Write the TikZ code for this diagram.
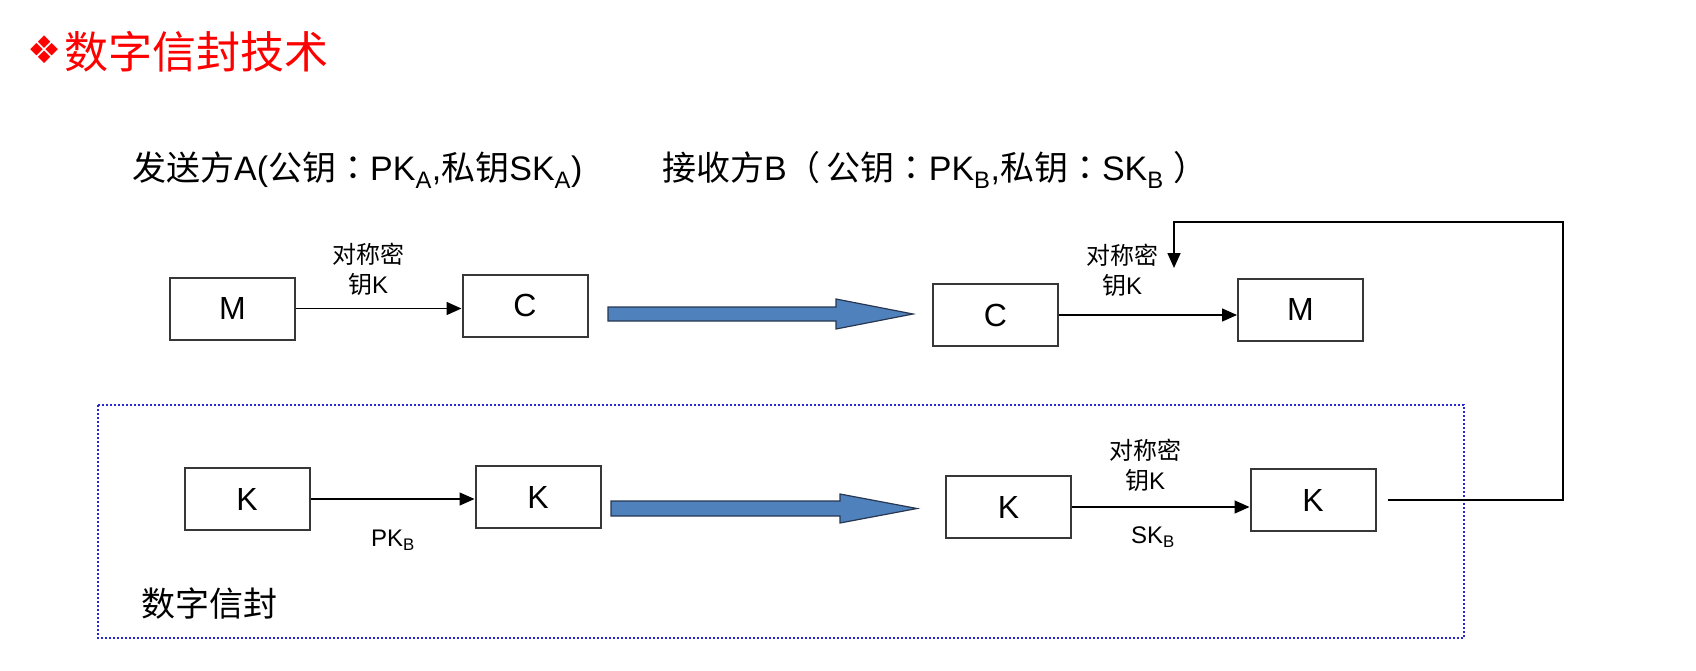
\documentclass[tikz,border=0pt]{standalone}
\usepackage{fontspec}
\setmainfont{Liberation Sans}
\newfontfamily\cjk{Noto Sans CJK SC}
\newfontfamily\cjkp{Noto Sans CJK JP}
\newfontfamily\dingfont{DejaVu Sans}
\usetikzlibrary{arrows.meta}
\definecolor{arrowblue}{RGB}{79,129,189}
\definecolor{arrowedge}{RGB}{40,55,80}
\definecolor{envblue}{RGB}{40,40,210}
\definecolor{boxline}{RGB}{55,55,55}
\begin{document}
\begin{tikzpicture}[x=1pt,y=-1pt,
  box/.style={draw=boxline, line width=2pt, minimum width=125pt, minimum height=62pt, inner sep=0pt, font=\fontsize{32}{32}\selectfont},
  lbl/.style={font=\fontsize{24}{30}\selectfont, align=center, inner sep=0pt},
  arr/.style={line width=1.5pt, -{Triangle[length=15pt,width=13pt]}},
  bigarrow/.style={fill=arrowblue, draw=arrowedge, line width=1.2pt, line join=miter},
  envline/.style={draw=envblue, line width=2.5pt, dash pattern=on 2pt off 2pt}]
\useasboundingbox (0,0) rectangle (1696,670);

% title
\node[text=red, inner sep=0pt, font=\dingfont\fontsize{38}{38}\selectfont] (dia) at (45,50) {❖};
\node[anchor=west, inner sep=0pt, text=red, font=\fontsize{44}{44}\selectfont] (title) at (64,52) {\cjk 数字信封技术};

% subtitles
\node[anchor=west, inner sep=0pt, font=\fontsize{34}{40}\selectfont] (sa) at (132,170)
  {{\cjk 发送方}A({\cjk 公钥}{\cjkp ：}PK\textsubscript{A},{\cjk 私钥}SK\textsubscript{A})};
\node[anchor=west, inner sep=0pt, font=\fontsize{34}{40}\selectfont] (sb) at (662,170)
  {{\cjk 接收方}B{\cjkp （}\hspace{6pt}{\cjk 公钥}{\cjkp ：}PK\textsubscript{B},{\cjk 私钥}{\cjkp ：}SK\textsubscript{B}\hspace{10pt}{\cjkp ）}};

% envelope frame
\draw[envline] (98,405) rectangle (1464,638);
\node[anchor=west, inner sep=0pt, font=\fontsize{34}{34}\selectfont] (envlbl) at (141,603) {\cjk 数字信封};

% boxes
\node[box] (M1) at (232.5,308.5) {M};
\node[box] (C1) at (525,305.5) {C};
\node[box] (C2) at (995.5,315) {C};
\node[box] (M2) at (1300.5,309.5) {M};
\node[box] (K1) at (247,499) {K};
\node[box] (K2) at (538,497) {K};
\node[box] (K3) at (1008.5,507) {K};
\node[box] (K4) at (1313,500) {K};

% thin arrows
\draw[arr] (M1.east) -- (M1.east -| C1.west);
\draw[arr] (C2.east) -- (C2.east -| M2.west);
\draw[arr] (K1.east) -- (K1.east -| K2.west);
\draw[arr] (K3.east) -- (K3.east -| K4.west);

% labels
\node[lbl] (l1) at (368,269) {{\cjk 对称密}\\{\cjk 钥}K};
\node[lbl] (l2) at (1122,270) {{\cjk 对称密}\\{\cjk 钥}K};
\node[lbl] (l3) at (1145,465) {{\cjk 对称密}\\{\cjk 钥}K};
\node[lbl] (pkb) at (393,540) {PK\textsubscript{B}};
\node[lbl] (skb) at (1153,537) {SK\textsubscript{B}};

% big blue arrows
\draw[bigarrow] (608,307) -- (836,307) -- (836,299) -- (913,314) -- (836,329) -- (836,321) -- (608,321) -- cycle;
\draw[bigarrow] (611,501) -- (840,501) -- (840,494) -- (917,508.5) -- (840,523) -- (840,516) -- (611,516) -- cycle;

% feedback connector
\coordinate (fbA) at (1563,222);
\coordinate (fbB) at (1174,222);
\coordinate (fbE) at (1174,268);
\draw[arr, line width=1.6pt] ([xshift=11pt]K4.east) -| (fbA) -- (fbB) -- (fbE);
\end{tikzpicture}
\end{document}
